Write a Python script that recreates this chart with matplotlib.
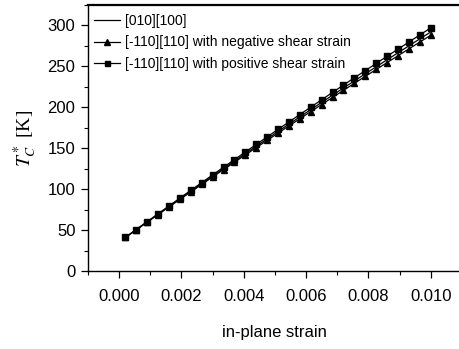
import matplotlib
matplotlib.use("Agg")
import matplotlib.pyplot as plt
from matplotlib.ticker import MultipleLocator

strain = [0.0002, 0.00055, 0.0009, 0.00125, 0.0016, 0.00195, 0.0023, 0.00265,
          0.0030, 0.00335, 0.0037, 0.00405, 0.0044, 0.00475, 0.0051, 0.00545,
          0.0058, 0.00615, 0.0065, 0.00685, 0.0072, 0.00755, 0.0079, 0.00825,
          0.0086, 0.00895, 0.0093, 0.00965, 0.0100]

tc_010 = [41.0, 50.5, 60.0, 69.4, 78.8, 88.2, 97.5, 106.7, 116.0, 125.2,
          134.3, 143.4, 152.5, 161.5, 170.5, 179.4, 188.3, 197.2, 206.0, 214.8,
          223.6, 232.3, 240.9, 249.5, 258.1, 266.6, 275.1, 283.6, 292.0]

tc_neg = [41.0, 50.4, 59.7, 69.0, 78.2, 87.5, 96.6, 105.7, 114.9, 123.9,
          132.9, 141.8, 150.8, 159.6, 168.5, 177.3, 186.0, 194.8, 203.4, 212.1,
          220.7, 229.3, 237.8, 246.2, 254.7, 263.0, 271.4, 279.7, 288.0]

tc_pos = [41.0, 50.7, 60.4, 69.9, 79.5, 89.1, 98.6, 108.0, 117.4, 126.8,
          136.1, 145.4, 154.6, 163.8, 173.0, 182.1, 191.2, 200.2, 209.2, 218.2,
          227.2, 236.1, 244.8, 253.6, 262.4, 271.1, 279.7, 288.4, 297.0]

labels = ["[010][100]",
          "[-110][110] with negative shear strain",
          "[-110][110] with positive shear strain"]

x_ticks = [0.000, 0.002, 0.004, 0.006, 0.008, 0.010]
x_ticklabels = ["0.000", "0.002", "0.004", "0.006", "0.008", "0.010"]
y_ticks = [0, 50, 100, 150, 200, 250, 300]

plt.rcParams['font.family'] = ['Liberation Sans', 'DejaVu Sans']
plt.rcParams['mathtext.fontset'] = 'stix'

fig = plt.figure(figsize=(4.6, 3.49), dpi=100)
ax = fig.add_axes([88/460, 78/349, 372/460, 266/349])

ax.plot(strain, tc_010, color='black', lw=0.9, label=labels[0])
ax.plot(strain, tc_neg, color='black', lw=0.9, marker='^', ms=5,
        label=labels[1])
ax.plot(strain, tc_pos, color='black', lw=0.9, marker='s', ms=4.5,
        label=labels[2])

ax.set_xlim(-0.001, 0.01094)
ax.set_ylim(0, 325)
ax.set_xticks(x_ticks)
ax.set_xticklabels(x_ticklabels)
ax.set_yticks(y_ticks)
ax.xaxis.set_minor_locator(MultipleLocator(0.001))
ax.yaxis.set_minor_locator(MultipleLocator(25))
ax.tick_params(axis='both', which='major', direction='out', length=5,
               width=0.9, labelsize=12)
ax.tick_params(axis='both', which='minor', direction='out', length=3,
               width=0.8)
ax.tick_params(axis='x', which='major', pad=8)
ax.tick_params(axis='y', which='major', pad=4)

ax.spines['right'].set_visible(False)
for s in ['top', 'left', 'bottom']:
    ax.spines[s].set_linewidth(1.0)
ax.spines['top'].set_linewidth(1.6)

ax.set_xlabel("in-plane strain", fontsize=12, labelpad=15)
ax.set_ylabel(r"$T_C^*$ [K]", fontsize=14, family='Liberation Serif',
              labelpad=6)

leg = ax.legend(loc='upper left', bbox_to_anchor=(0.016, 0.967), frameon=False,
                fontsize=10, handlelength=1.9, handletextpad=0.35,
                labelspacing=0.55, borderaxespad=0, borderpad=0,
                markerscale=0.8)

fig.savefig("out.png", dpi=100)
